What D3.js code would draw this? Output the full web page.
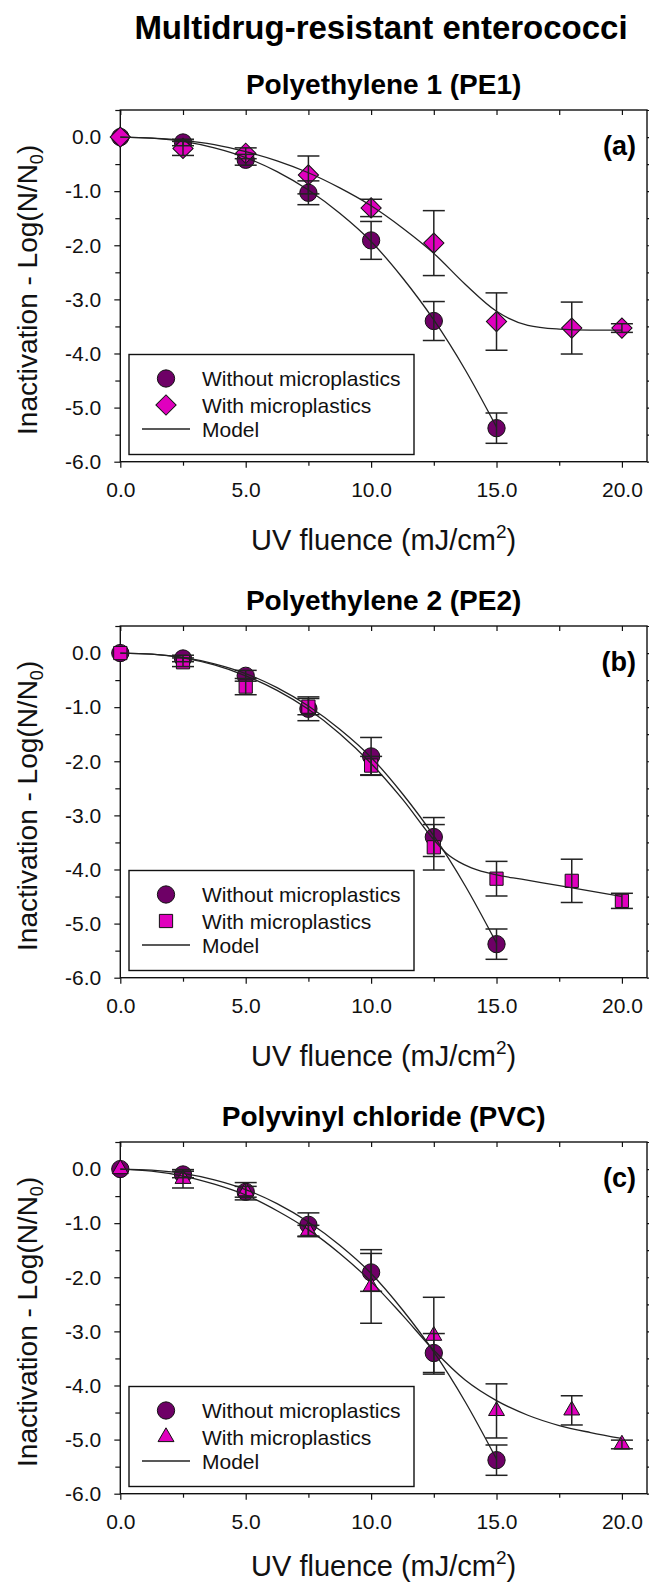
<!DOCTYPE html>
<html>
<head>
<meta charset="utf-8">
<script src="https://cdn.jsdelivr.net/npm/d3@7"></script>
<style>
  html, body { margin: 0; padding: 0; background: #fff; }
  svg { display: block; }
</style>
</head>
<body>
<div id="chart"></div>
<script>
// ---------------- DATA ----------------
const mainTitle = "Multidrug-resistant enterococci";
const panelTitles = ["Polyethylene 1 (PE1)", "Polyethylene 2 (PE2)", "Polyvinyl chloride (PVC)"];
const panelLetters = ["(a)", "(b)", "(c)"];
const legendLabels = ["Without microplastics", "With microplastics", "Model"];

const xTickValues = [0, 5, 10, 15, 20];
const xMinorValues = [0, 2.5, 5, 7.5, 10, 12.5, 15, 17.5, 20];
const yTickValues = [0, -1, -2, -3, -4, -5, -6];
const yMinorValues = [0.5, 0, -0.5, -1, -1.5, -2, -2.5, -3, -3.5, -4, -4.5, -5, -5.5, -6];

// Without microplastics (same control in every panel)
const fluenceCtrl = [0, 2.5, 5, 7.5, 10, 12.5, 15];
const ctrlMean = [0, -0.10, -0.42, -1.03, -1.91, -3.40, -5.38];
const ctrlErr  = [0, 0.06, 0.10, 0.22, 0.35, 0.36, 0.28];

// With microplastics
const fluenceMP = [0, 2.5, 5, 7.5, 10, 12.5, 15, 18, 20];
const pe1Mean = [0, -0.21, -0.30, -0.70, -1.31, -1.96, -3.41, -3.53, -3.53];
const pe1Err  = [0, 0.13, 0.10, 0.35, 0.16, 0.60, 0.53, 0.48, 0.08];
const pe2Mean = [0, -0.17, -0.62, -0.99, -2.08, -3.59, -4.17, -4.21, -4.58];
const pe2Err  = [0, 0.08, 0.15, 0.15, 0.17, 0.42, 0.32, 0.40, 0.14];
const pvcMean = [0, -0.18, -0.41, -1.14, -2.17, -3.08, -4.47, -4.46, -5.09];
const pvcErr  = [0, 0.17, 0.16, 0.10, 0.68, 0.71, 0.50, 0.27, 0.08];

// Model curves
const modelCtrlX = [0, 1.25, 2.5, 3.75, 5, 6.25, 7.5, 8.75, 10, 11.25, 12.5, 13.75, 15];
const modelCtrlY = [0, -0.02, -0.08, -0.20, -0.38, -0.64, -0.98, -1.41, -1.93, -2.60, -3.38, -4.30, -5.36];

const modelPE1X = [0, 1.25, 2.5, 3.75, 5, 6.25, 7.5, 8.75, 10, 11.25, 12.5, 13.75, 15, 16.25, 17.5, 18.75, 20];
const modelPE1Y = [0, -0.02, -0.06, -0.14, -0.27, -0.44, -0.66, -0.94, -1.27, -1.68, -2.15, -2.72, -3.22, -3.48, -3.55, -3.57, -3.57];

const modelPE2X = [0, 1.25, 2.5, 3.75, 5, 6.25, 7.5, 8.75, 10, 11.25, 12.5, 13, 13.5, 14, 15, 16, 17.5, 20];
const modelPE2Y = [0, -0.02, -0.09, -0.22, -0.42, -0.69, -1.04, -1.49, -2.04, -2.70, -3.45, -3.70, -3.86, -3.97, -4.10, -4.18, -4.30, -4.50];

const modelPVCX = [0, 1.25, 2.5, 3.75, 5, 6.25, 7.5, 8.75, 10, 11.25, 12.5, 13.75, 15, 16.25, 17.5, 18.75, 20];
const modelPVCY = [0, -0.04, -0.13, -0.28, -0.48, -0.77, -1.12, -1.56, -2.08, -2.70, -3.35, -3.90, -4.28, -4.55, -4.74, -4.87, -4.98];

// ---------------- LAYOUT ----------------
const W = 649, H = 1584;
const FONT = "'Liberation Sans', Arial, Helvetica, sans-serif";
const colCtrl = "#6e0066";
const colMP = "#e000be";
const panelStep = 516;
const plotLeft = 120.3, plotRight = 647;
const plotTop0 = 110, plotBottom0 = 461.7;

const panels = [
  { title: panelTitles[0], letter: panelLetters[0], mean: pe1Mean, err: pe1Err, mx: modelPE1X, my: modelPE1Y, shape: "diamond" },
  { title: panelTitles[1], letter: panelLetters[1], mean: pe2Mean, err: pe2Err, mx: modelPE2X, my: modelPE2Y, shape: "square" },
  { title: panelTitles[2], letter: panelLetters[2], mean: pvcMean, err: pvcErr, mx: modelPVCX, my: modelPVCY, shape: "triangle" }
];

const svg = d3.select("#chart").append("svg")
  .attr("width", W).attr("height", H)
  .attr("font-family", FONT);
svg.append("rect").attr("width", W).attr("height", H).attr("fill", "#fff");

svg.append("text")
  .attr("x", 381).attr("y", 39)
  .attr("text-anchor", "middle")
  .attr("font-size", 33).attr("font-weight", "bold")
  .text(mainTitle);

const x = d3.scaleLinear().domain([0, 21]).range([plotLeft, plotRight]);

function symbolPath(shape) {
  if (shape === "circle") return d3.symbol().type(d3.symbolCircle).size(235)();
  if (shape === "diamond") return d3.symbol().type(d3.symbolSquare).size(205)();
  if (shape === "square") return d3.symbol().type(d3.symbolSquare).size(175)();
  return d3.symbol().type(d3.symbolTriangle).size(110)();
}
function symbolRot(shape) { return shape === "diamond" ? " rotate(45)" : ""; }

panels.forEach((p, i) => {
  const top = plotTop0 + i * panelStep;
  const bottom = plotBottom0 + i * panelStep;
  const y = d3.scaleLinear().domain([-6, 0.5]).range([bottom, top]);
  const g = svg.append("g");

  // panel title
  g.append("text")
    .attr("x", (plotLeft + plotRight) / 2).attr("y", top - 16.5)
    .attr("text-anchor", "middle")
    .attr("font-size", 28).attr("font-weight", "bold")
    .text(p.title);

  // axes
  const axisStyle = sel => {
    sel.select(".domain").remove();
    sel.selectAll("line").attr("stroke", "#111").attr("stroke-width", 1.2);
    sel.selectAll("text").attr("font-family", FONT).attr("fill", "#111");
  };
  // bottom major
  g.append("g").attr("transform", `translate(0,${bottom})`)
    .call(d3.axisBottom(x).tickValues(xTickValues).tickSize(6).tickPadding(14)
      .tickFormat(d3.format(".1f")))
    .call(axisStyle)
    .selectAll("text").attr("font-size", 21);
  // bottom minor
  g.append("g").attr("transform", `translate(0,${bottom})`)
    .call(d3.axisBottom(x).tickValues(xMinorValues.filter(v => !xTickValues.includes(v))).tickSize(4).tickFormat(""))
    .call(axisStyle);
  // top (inward)
  g.append("g").attr("transform", `translate(0,${top})`)
    .call(d3.axisBottom(x).tickValues(xMinorValues).tickSize(5).tickFormat(""))
    .call(axisStyle);
  // left
  g.append("g").attr("transform", `translate(${plotLeft},0)`)
    .call(d3.axisLeft(y).tickValues(yTickValues).tickSize(6).tickPadding(13)
      .tickFormat(d3.format(".1f")))
    .call(axisStyle)
    .selectAll("text").attr("font-size", 21).text(d => d === 0 ? "0.0" : d3.format(".1f")(d).replace("−", "-"));
  g.append("g").attr("transform", `translate(${plotLeft},0)`)
    .call(d3.axisLeft(y).tickValues(yMinorValues.filter(v => !yTickValues.includes(v))).tickSize(5).tickFormat(""))
    .call(axisStyle);
  // right
  g.append("g").attr("transform", `translate(${plotRight},0)`)
    .call(d3.axisRight(y).tickValues(yMinorValues).tickSize(5).tickFormat(""))
    .call(axisStyle);

  // frame
  g.append("rect")
    .attr("x", plotLeft).attr("y", top)
    .attr("width", plotRight - plotLeft).attr("height", bottom - top)
    .attr("fill", "none").attr("stroke", "#111").attr("stroke-width", 1.4);

  // axis titles
  const xt = g.append("text")
    .attr("x", (plotLeft + plotRight) / 2).attr("y", Math.min(bottom + 88, H - 8))
    .attr("text-anchor", "middle").attr("font-size", 29).attr("fill", "#111");
  xt.append("tspan").text("UV fluence (mJ/cm");
  xt.append("tspan").attr("dy", -12).attr("font-size", 19).text("2");
  xt.append("tspan").attr("dy", 12).text(")");

  const yt = g.append("text")
    .attr("transform", `translate(37,${(top + bottom) / 2 + 4}) rotate(-90)`)
    .attr("text-anchor", "middle").attr("font-size", 28).attr("fill", "#111");
  yt.append("tspan").text("Inactivation - Log(N/N");
  yt.append("tspan").attr("dy", 6).attr("font-size", 18).text("0");
  yt.append("tspan").attr("dy", -6).text(")");

  // panel letter
  g.append("text")
    .attr("x", 636).attr("y", y(0) + 18)
    .attr("text-anchor", "end").attr("font-size", 27).attr("font-weight", "bold")
    .text(p.letter);

  // data
  const ctrl = fluenceCtrl.map((f, k) => ({ f, m: ctrlMean[k], e: ctrlErr[k] }));
  const mp = fluenceMP.map((f, k) => ({ f, m: p.mean[k], e: p.err[k] }));

  // markers
  g.append("g").selectAll("path").data(ctrl).join("path")
    .attr("d", symbolPath("circle"))
    .attr("transform", d => `translate(${x(d.f)},${y(d.m)})`)
    .attr("fill", colCtrl).attr("stroke", "#111").attr("stroke-width", 1);
  g.append("g").selectAll("path").data(mp).join("path")
    .attr("d", symbolPath(p.shape))
    .attr("transform", d => `translate(${x(d.f)},${y(d.m)})${symbolRot(p.shape)}`)
    .attr("fill", colMP).attr("stroke", "#111").attr("stroke-width", 1);

  // error bars
  const cap = 11;
  [ctrl, mp].forEach(series => {
    const eb = g.append("g").attr("stroke", "#222").attr("stroke-width", 1.5).attr("fill", "none");
    series.filter(d => d.e > 0).forEach(d => {
      const cx = x(d.f), y1 = y(d.m + d.e), y2 = y(d.m - d.e);
      eb.append("line").attr("x1", cx).attr("x2", cx).attr("y1", y1).attr("y2", y2);
      eb.append("line").attr("x1", cx - cap).attr("x2", cx + cap).attr("y1", y1).attr("y2", y1);
      eb.append("line").attr("x1", cx - cap).attr("x2", cx + cap).attr("y1", y2).attr("y2", y2);
    });
  });

  // model lines
  const line = d3.line().x(d => x(d[0])).y(d => y(d[1])).curve(d3.curveMonotoneX);
  g.append("path").datum(modelCtrlX.map((v, k) => [v, modelCtrlY[k]]))
    .attr("d", line).attr("fill", "none").attr("stroke", "#222").attr("stroke-width", 1.3);
  g.append("path").datum(p.mx.map((v, k) => [v, p.my[k]]))
    .attr("d", line).attr("fill", "none").attr("stroke", "#222").attr("stroke-width", 1.3);

  // legend
  const lx = 129, ly = bottom - 107.2, lw = 285, lh = 100;
  const lg = g.append("g");
  lg.append("rect").attr("x", lx).attr("y", ly).attr("width", lw).attr("height", lh)
    .attr("fill", "#fff").attr("stroke", "#111").attr("stroke-width", 1.4);
  const rows = [24, 50.5, 74.5];
  lg.append("path").attr("d", symbolPath("circle"))
    .attr("transform", `translate(166,${ly + rows[0]})`)
    .attr("fill", colCtrl).attr("stroke", "#111");
  lg.append("path").attr("d", symbolPath(p.shape))
    .attr("transform", `translate(166,${ly + rows[1]})${symbolRot(p.shape)}`)
    .attr("fill", colMP).attr("stroke", "#111");
  lg.append("line").attr("x1", 142).attr("x2", 190)
    .attr("y1", ly + rows[2]).attr("y2", ly + rows[2])
    .attr("stroke", "#222").attr("stroke-width", 1.3);
  legendLabels.forEach((t, k) => {
    lg.append("text").attr("x", 202).attr("y", ly + rows[k] + 7.5)
      .attr("font-size", 21).attr("fill", "#111").text(t);
  });
});
</script>
</body>
</html>
